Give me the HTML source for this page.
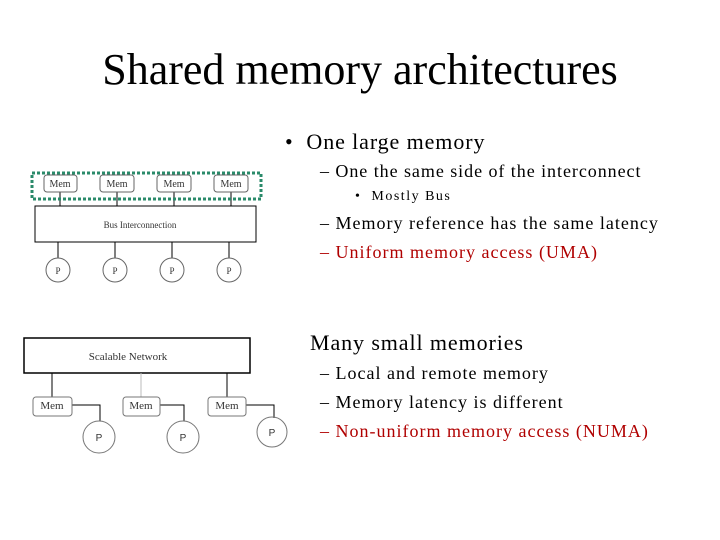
<html><body style="margin:0;width:720px;height:540px;background:#fff;position:relative;font-family:'Liberation Serif',serif;overflow:hidden">
<div style="position:absolute;top:44px;left:0;width:720px;text-align:center;font-size:44px">Shared memory architectures</div>
<div style="position:absolute;left:285px;top:129px;font-size:22px;letter-spacing:0.9px">•&nbsp; One large memory</div>
<div style="position:absolute;left:320px;top:161px;font-size:18px;letter-spacing:0.95px">– One the same side of the interconnect</div>
<div style="position:absolute;left:355px;top:189px;font-size:14px;letter-spacing:1.5px">•&nbsp; Mostly Bus</div>
<div style="position:absolute;left:320px;top:213px;font-size:18px;letter-spacing:1px">– Memory reference has the same latency</div>
<div style="position:absolute;left:320px;top:242px;font-size:18px;letter-spacing:1px;color:#b00000">– Uniform memory access (UMA)</div>
<div style="position:absolute;left:310px;top:330px;font-size:22px;letter-spacing:0.9px">Many small memories</div>
<div style="position:absolute;left:320px;top:363px;font-size:18px;letter-spacing:1px">– Local and remote memory</div>
<div style="position:absolute;left:320px;top:392px;font-size:18px;letter-spacing:1px">– Memory latency is different</div>
<div style="position:absolute;left:320px;top:421px;font-size:18px;letter-spacing:1px;color:#b00000">– Non-uniform memory access (NUMA)</div>
<svg width="720" height="540" style="position:absolute;left:0;top:0" font-family="Liberation Serif" font-size="10">
<g stroke="#000" fill="none">
<line x1="60" y1="192" x2="60" y2="206"/><line x1="117" y1="192" x2="117" y2="206"/><line x1="174" y1="192" x2="174" y2="206"/><line x1="231" y1="192" x2="231" y2="206"/>
<line x1="58" y1="242" x2="58" y2="258"/><line x1="115" y1="242" x2="115" y2="258"/><line x1="172" y1="242" x2="172" y2="258"/><line x1="229" y1="242" x2="229" y2="258"/>
<rect x="35" y="206" width="221" height="36"/>
<g stroke="#666"><rect x="44" y="175" width="33" height="17" rx="3"/><rect x="100" y="175" width="34" height="17" rx="3"/><rect x="157" y="175" width="34" height="17" rx="3"/><rect x="214" y="175" width="34" height="17" rx="3"/>
<circle cx="58" cy="270" r="12"/><circle cx="115" cy="270" r="12"/><circle cx="172" cy="270" r="12"/><circle cx="229" cy="270" r="12"/></g>
<rect x="32" y="173" width="229" height="26" stroke="#2a8a6a" stroke-width="3" stroke-dasharray="3,2"/>
<rect x="24" y="338" width="226" height="35" stroke-width="1.5"/>
<line x1="52" y1="373" x2="52" y2="397"/><line x1="141" y1="373" x2="141" y2="397" stroke="#bbb"/><line x1="227" y1="373" x2="227" y2="397"/>
<path d="M72 405H100V421M160 405H184V421M246 405H274V418"/>
<g stroke="#777"><rect x="33" y="397" width="39" height="19" rx="3"/><rect x="123" y="397" width="37" height="19" rx="3"/><rect x="208" y="397" width="38" height="19" rx="3"/>
<circle cx="99" cy="437" r="16"/><circle cx="183" cy="437" r="16"/><circle cx="272" cy="432" r="15"/></g>
</g>
<g fill="#333" text-anchor="middle">
<text x="60" y="187">Mem</text><text x="117" y="187">Mem</text><text x="174" y="187">Mem</text><text x="231" y="187">Mem</text>
<text x="140" y="228" font-size="9">Bus Interconnection</text>
<text x="58" y="274" font-size="9">P</text><text x="115" y="274" font-size="9">P</text><text x="172" y="274" font-size="9">P</text><text x="229" y="274" font-size="9">P</text>
<text x="128" y="360" font-size="11">Scalable Network</text>
<text x="52" y="409" font-size="11">Mem</text><text x="141" y="409" font-size="11">Mem</text><text x="227" y="409" font-size="11">Mem</text>
<text x="99" y="441" font-family="Liberation Sans">P</text><text x="183" y="441" font-family="Liberation Sans">P</text><text x="272" y="436" font-family="Liberation Sans">P</text>
</g>
</svg>
</body></html>
